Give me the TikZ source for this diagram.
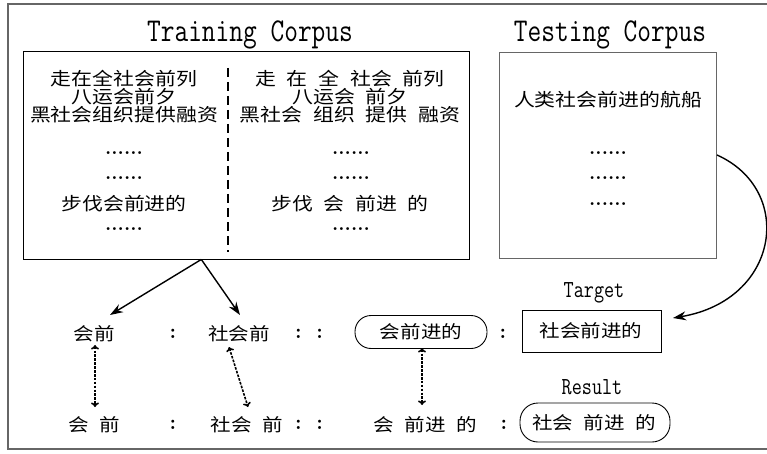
\documentclass[tikz,border=0pt]{standalone}
\usepackage{fontspec}
\usepackage{graphicx}
\usetikzlibrary{arrows.meta,calc}
\newfontfamily\cjk{Noto Sans CJK SC}[FakeStretch=1.16]
\newcommand\gap{\hspace{0.6em}}
\newcommand\mono[2]{\scalebox{0.8}[1]{\ttfamily\fontsize{#1}{#1}\selectfont #2}}
\tikzset{
  cn/.style={font=\cjk\fontsize{18}{18}\selectfont, text height=14.9pt, text depth=1.4pt, inner sep=0pt},
  cnb/.style={font=\cjk\fontsize{17.7}{17.7}\selectfont, text height=14.7pt, text depth=1.4pt, inner sep=0pt},
  dots/.style={font=\bfseries\fontsize{20}{20}\selectfont, anchor=base, inner sep=0pt},
  colon/.style={font=\bfseries\fontsize{21}{21}\selectfont, inner sep=0pt},
  lbl/.style={anchor=base, inner sep=0pt},
  corpusbox/.style={draw, line width=0.9pt, inner sep=0pt},
  pill/.style={draw, line width=0.9pt, rounded corners=16pt, inner sep=0pt},
  solidarrow/.style={line width=1.4pt, -{Stealth[length=13pt,width=9pt]}},
  dotarrow/.style={line width=1.6pt, dash pattern=on 2.6pt off 1.3pt, {To[length=4.5pt,width=8pt]}-{To[length=4.5pt,width=8pt]}},
}
\begin{document}
\begin{tikzpicture}[x=1pt,y=-1pt]
\useasboundingbox (0,0) rectangle (767,454);
% outer frame (right edge cut off)
\draw[line width=1.6pt, black!60] (767,4) -- (8,4) -- (8,449) -- (767,449);

% titles
\node[lbl] (trtitle) at (250,42) {\mono{33.3}{Training Corpus}};
\node[lbl] (tetitle) at (610,42) {\mono{33.3}{Testing Corpus}};

% corpus boxes
\node[corpusbox, minimum width=446pt, minimum height=208pt] (trainbox) at (246,155) {};
\node[corpusbox, draw=black!60, minimum width=217pt, minimum height=206pt] (testbox) at (607.5,155) {};

% dashed separator
\coordinate (dtop) at (228,68);
\coordinate (dbot) at (228,252);
\draw[line width=1.1pt, dash pattern=on 9pt off 5pt] (dtop) -- (dbot);

% left column
\node[cn] (l1) at (124,79) {走在全社会前列};
\node[cn] (l2) at (124,97) {八运会前夕};
\node[cn] (l3) at (124,115) {黑社会组织提供融资};
\node[dots] (l4) at (124,155) {......};
\node[dots] (l5) at (124,180) {......};
\node[cn] (l6) at (124,204) {步伐会前进的};
\node[dots] (l7) at (124,230) {......};

% right column
\node[cn] (r1) at (350,79) {走\gap 在\gap 全\gap 社会\gap 前列};
\node[cn] (r2) at (350,97) {八运会\gap 前夕};
\node[cn] (r3) at (350,115) {黑社会\gap 组织\gap 提供\gap 融资};
\node[dots] (r4) at (351,155) {......};
\node[dots] (r5) at (351,180) {......};
\node[cn] (r6) at (350,204) {步伐\gap 会\gap 前进\gap 的};
\node[dots] (r7) at (351,230) {......};

% testing corpus
\node[cn] (t1) at (608,100) {人类社会前进的航船};
\node[dots] (t2) at (608,155) {......};
\node[dots] (t3) at (608,180) {......};
\node[dots] (t4) at (608,205) {......};

% row 1
\node[cnb] (a1) at (94,334) {会前};
\node[colon] (ac1) at (173,334) {:};
\node[cnb] (a2) at (239,334) {社会前};
\node[colon] (ac2) at (309,334) {:\hspace{0.7em}:};
\node[pill, minimum width=132pt, minimum height=33pt] (a3) at (421,332) {};
\node[cnb] (a3t) at (421,332) {会前进的};
\node[colon] (ac3) at (503,334) {:};
\node[draw, line width=0.9pt, minimum width=139pt, minimum height=42pt, inner sep=0pt] (tgt) at (591.5,331) {};
\node[cnb] (tgtt) at (591,331) {社会前进的};
\node[lbl] (tgtlbl) at (594,297) {\mono{24.5}{Target}};

% row 2
\node[cnb] (b1) at (94,425) {会\gap 前};
\node[colon] (bc1) at (173,425) {:};
\node[cnb] (b2) at (247,425) {社会\gap 前};
\node[colon] (bc2) at (309,425) {:\hspace{0.7em}:};
\node[cnb] (b3) at (425,425) {会\gap 前进\gap 的};
\node[colon] (bc3) at (504,425) {:};
\node[pill, minimum width=150pt, minimum height=39pt, rounded corners=18pt] (res) at (595,422.5) {};
\node[cnb] (rest) at (594,423) {社会\gap 前进\gap 的};
\node[lbl] (reslbl) at (592,394) {\mono{24.5}{Result}};

% solid arrows from training corpus
\coordinate (split) at ($(trainbox.south west)!0.4!(trainbox.south east)$);
\coordinate (tipa) at (110,315);
\coordinate (tipb) at (240,315);
\draw[solidarrow] (split) -- (tipa);
\draw[solidarrow] (split) -- (tipb);

% curved arrow from testing corpus to target
\coordinate (cstart) at (717,155);
\coordinate (cend) at (673,318);
\draw[solidarrow] (cstart) .. controls (795,190) and (780,300) .. (cend);

% dotted double arrows
\coordinate (d1a) at (95,345);
\coordinate (d1b) at (95,407);
\coordinate (d2a) at (229,347);
\coordinate (d2b) at (248,407);
\coordinate (d3a) at (422,348);
\coordinate (d3b) at (422,405);
\draw[dotarrow] (d1a) -- (d1b);
\draw[dotarrow] (d2a) -- (d2b);
\draw[dotarrow] (d3a) -- (d3b);
\end{tikzpicture}
\end{document}
